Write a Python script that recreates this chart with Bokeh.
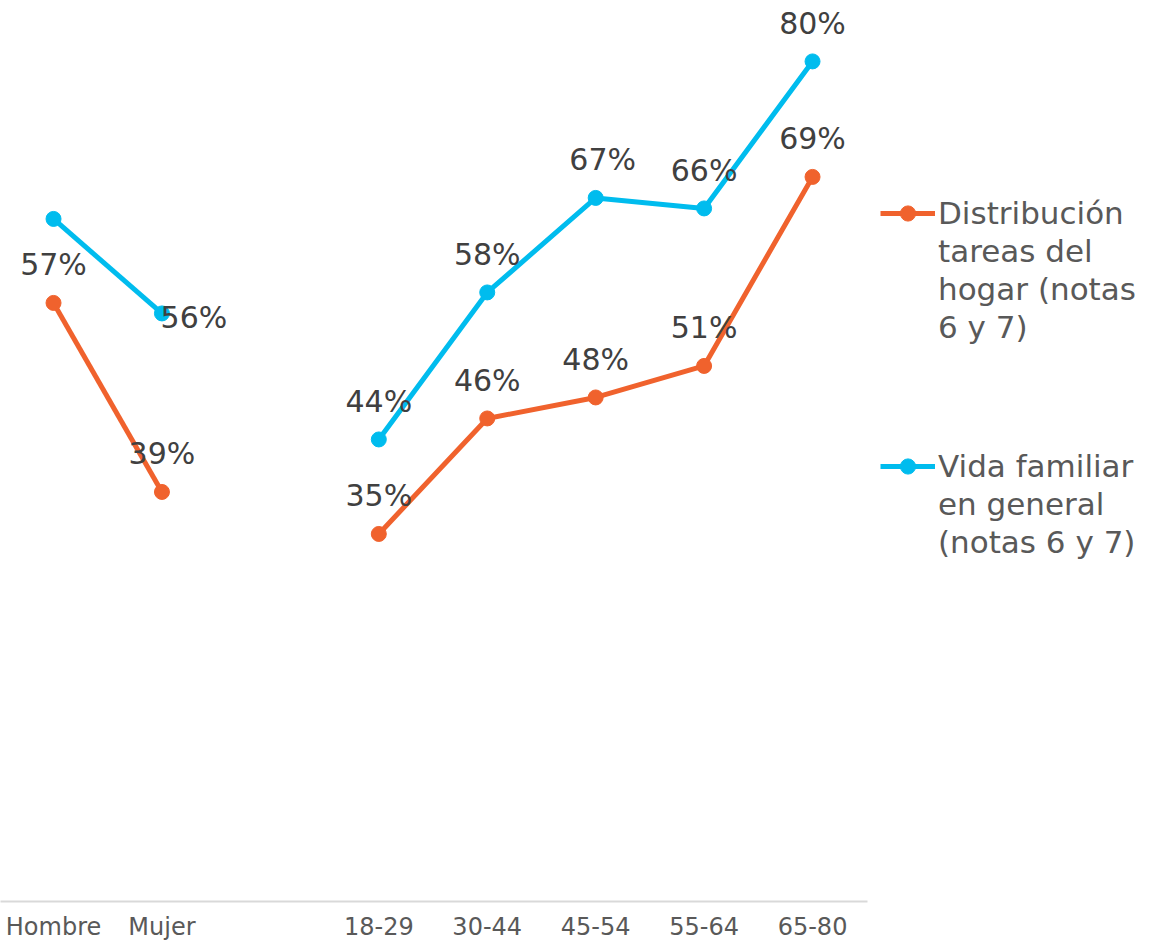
from bokeh.plotting import figure
from bokeh.models import (ColumnDataSource, LabelSet, Legend, LegendItem,
                          Range1d, FixedTicker)
from bokeh.core.properties import value
from bokeh.embed import file_html
from bokeh.resources import INLINE

# ---- data ----
sex_groups = ["Hombre", "Mujer"]
age_groups = ["18-29", "30-44", "45-54", "55-64", "65-80"]

tareas_sex = [57, 39]
tareas_age = [35, 46, 48, 51, 69]
vida_sex = [65, 56]
vida_age = [44, 58, 67, 66, 80]

tareas_lines = ["Distribución", "tareas del", "hogar (notas", "6 y 7)"]
vida_lines = ["Vida familiar", "en general", "(notas 6 y 7)"]

# which labels are shown (the Hombre value of "Vida familiar" has no label)
vida_sex_show = [False, True]

ORANGE = "#F0622D"
BLUE = "#00BCEE"
FONT = "DejaVu Sans"

# category slot positions: a blank slot separates the two groups
x_sex = list(range(len(sex_groups)))
x_age = [len(sex_groups) + 1 + i for i in range(len(age_groups))]
tick_pos = x_sex + x_age
tick_lab = sex_groups + age_groups

UNIT = 108.43          # px per category slot
X0 = -0.489            # left edge of the plotting area
FRAME_W = 1150
FRAME_H = 901
p = figure(frame_width=FRAME_W, frame_height=FRAME_H,
           output_backend="svg", toolbar_location=None,
           x_range=Range1d(X0, X0 + FRAME_W / UNIT),
           y_range=Range1d(0, 85.8),
           min_border_left=0, min_border_top=0, min_border_right=0,
           min_border_bottom=0)
p.outline_line_color = None
p.xgrid.visible = False
p.ygrid.visible = False
p.yaxis.visible = False

ax = p.xaxis[0]
ax.ticker = FixedTicker(ticks=tick_pos)
ax.major_label_overrides = {t: l for t, l in zip(tick_pos, tick_lab)}
ax.bounds = (X0, x_age[-1] + 0.507)
ax.major_tick_line_color = None
ax.minor_tick_line_color = None
ax.axis_line_color = "#D9D9D9"
ax.axis_line_width = 2
ax.major_label_text_font = FONT
ax.major_label_text_font_size = "24px"
ax.major_label_text_color = "#595959"
ax.major_label_text_baseline = "hanging"
ax.major_label_standoff = 5

LW = 5
MS = 15

r_t1 = p.line(x_sex, tareas_sex, line_color=ORANGE, line_width=LW)
r_t2 = p.line(x_age, tareas_age, line_color=ORANGE, line_width=LW)
r_t3 = p.scatter(x_sex + x_age, tareas_sex + tareas_age, size=MS,
                 fill_color=ORANGE, line_color=ORANGE)
r_v1 = p.line(x_sex, vida_sex, line_color=BLUE, line_width=LW)
r_v2 = p.line(x_age, vida_age, line_color=BLUE, line_width=LW)
r_v3 = p.scatter(x_sex + x_age, vida_sex + vida_age, size=MS,
                 fill_color=BLUE, line_color=BLUE)
ghost = p.line(x=[], y=[], line_alpha=0)

# ---- data labels ----
lx, ly, lt, xo, yo = [], [], [], [], []
for x, v in zip(x_sex + x_age, tareas_sex + tareas_age):
    lx.append(x); ly.append(v); lt.append(f"{v}%"); xo.append(0); yo.append(38)
for i, (x, v) in enumerate(zip(x_sex + x_age, vida_sex + vida_age)):
    if i < len(vida_sex) and not vida_sex_show[i]:
        continue
    lx.append(x); ly.append(v); lt.append(f"{v}%")
    if i == 1:
        xo.append(32); yo.append(-4)
    elif i == 4:
        xo.append(7); yo.append(38)
    else:
        xo.append(0); yo.append(38)

src = ColumnDataSource(dict(x=lx, y=ly, text=lt, xo=xo, yo=yo))
labels = LabelSet(x="x", y="y", text="text", source=src,
                  x_offset="xo", y_offset="yo",
                  text_align="center", text_baseline="middle",
                  text_font=value(FONT), text_font_size="30px",
                  text_color="#404040")
p.add_layout(labels)

# ---- legend (one legend per series, first line carries the glyph) ----
ROW = 38
def make_legend(lines, renderers, top_px):
    items = [LegendItem(label=lines[0], renderers=renderers)]
    items += [LegendItem(label=t, renderers=[ghost]) for t in lines[1:]]
    lg = Legend(items=items,
                location=(880, FRAME_H - top_px - ROW * len(lines)))
    lg.border_line_color = None
    lg.background_fill_alpha = 0
    lg.label_text_font = FONT
    lg.label_text_font_size = "31px"
    lg.label_text_color = "#595959"
    lg.glyph_width = 55
    lg.glyph_height = ROW
    lg.label_height = ROW
    lg.label_standoff = 3
    lg.padding = 0
    lg.margin = 0
    lg.spacing = 0
    return lg

p.add_layout(make_legend(tareas_lines, [r_t1, r_t3], 194))
p.add_layout(make_legend(vida_lines, [r_v1, r_v3], 447))

open("out.html", "w").write(file_html(p, INLINE))
